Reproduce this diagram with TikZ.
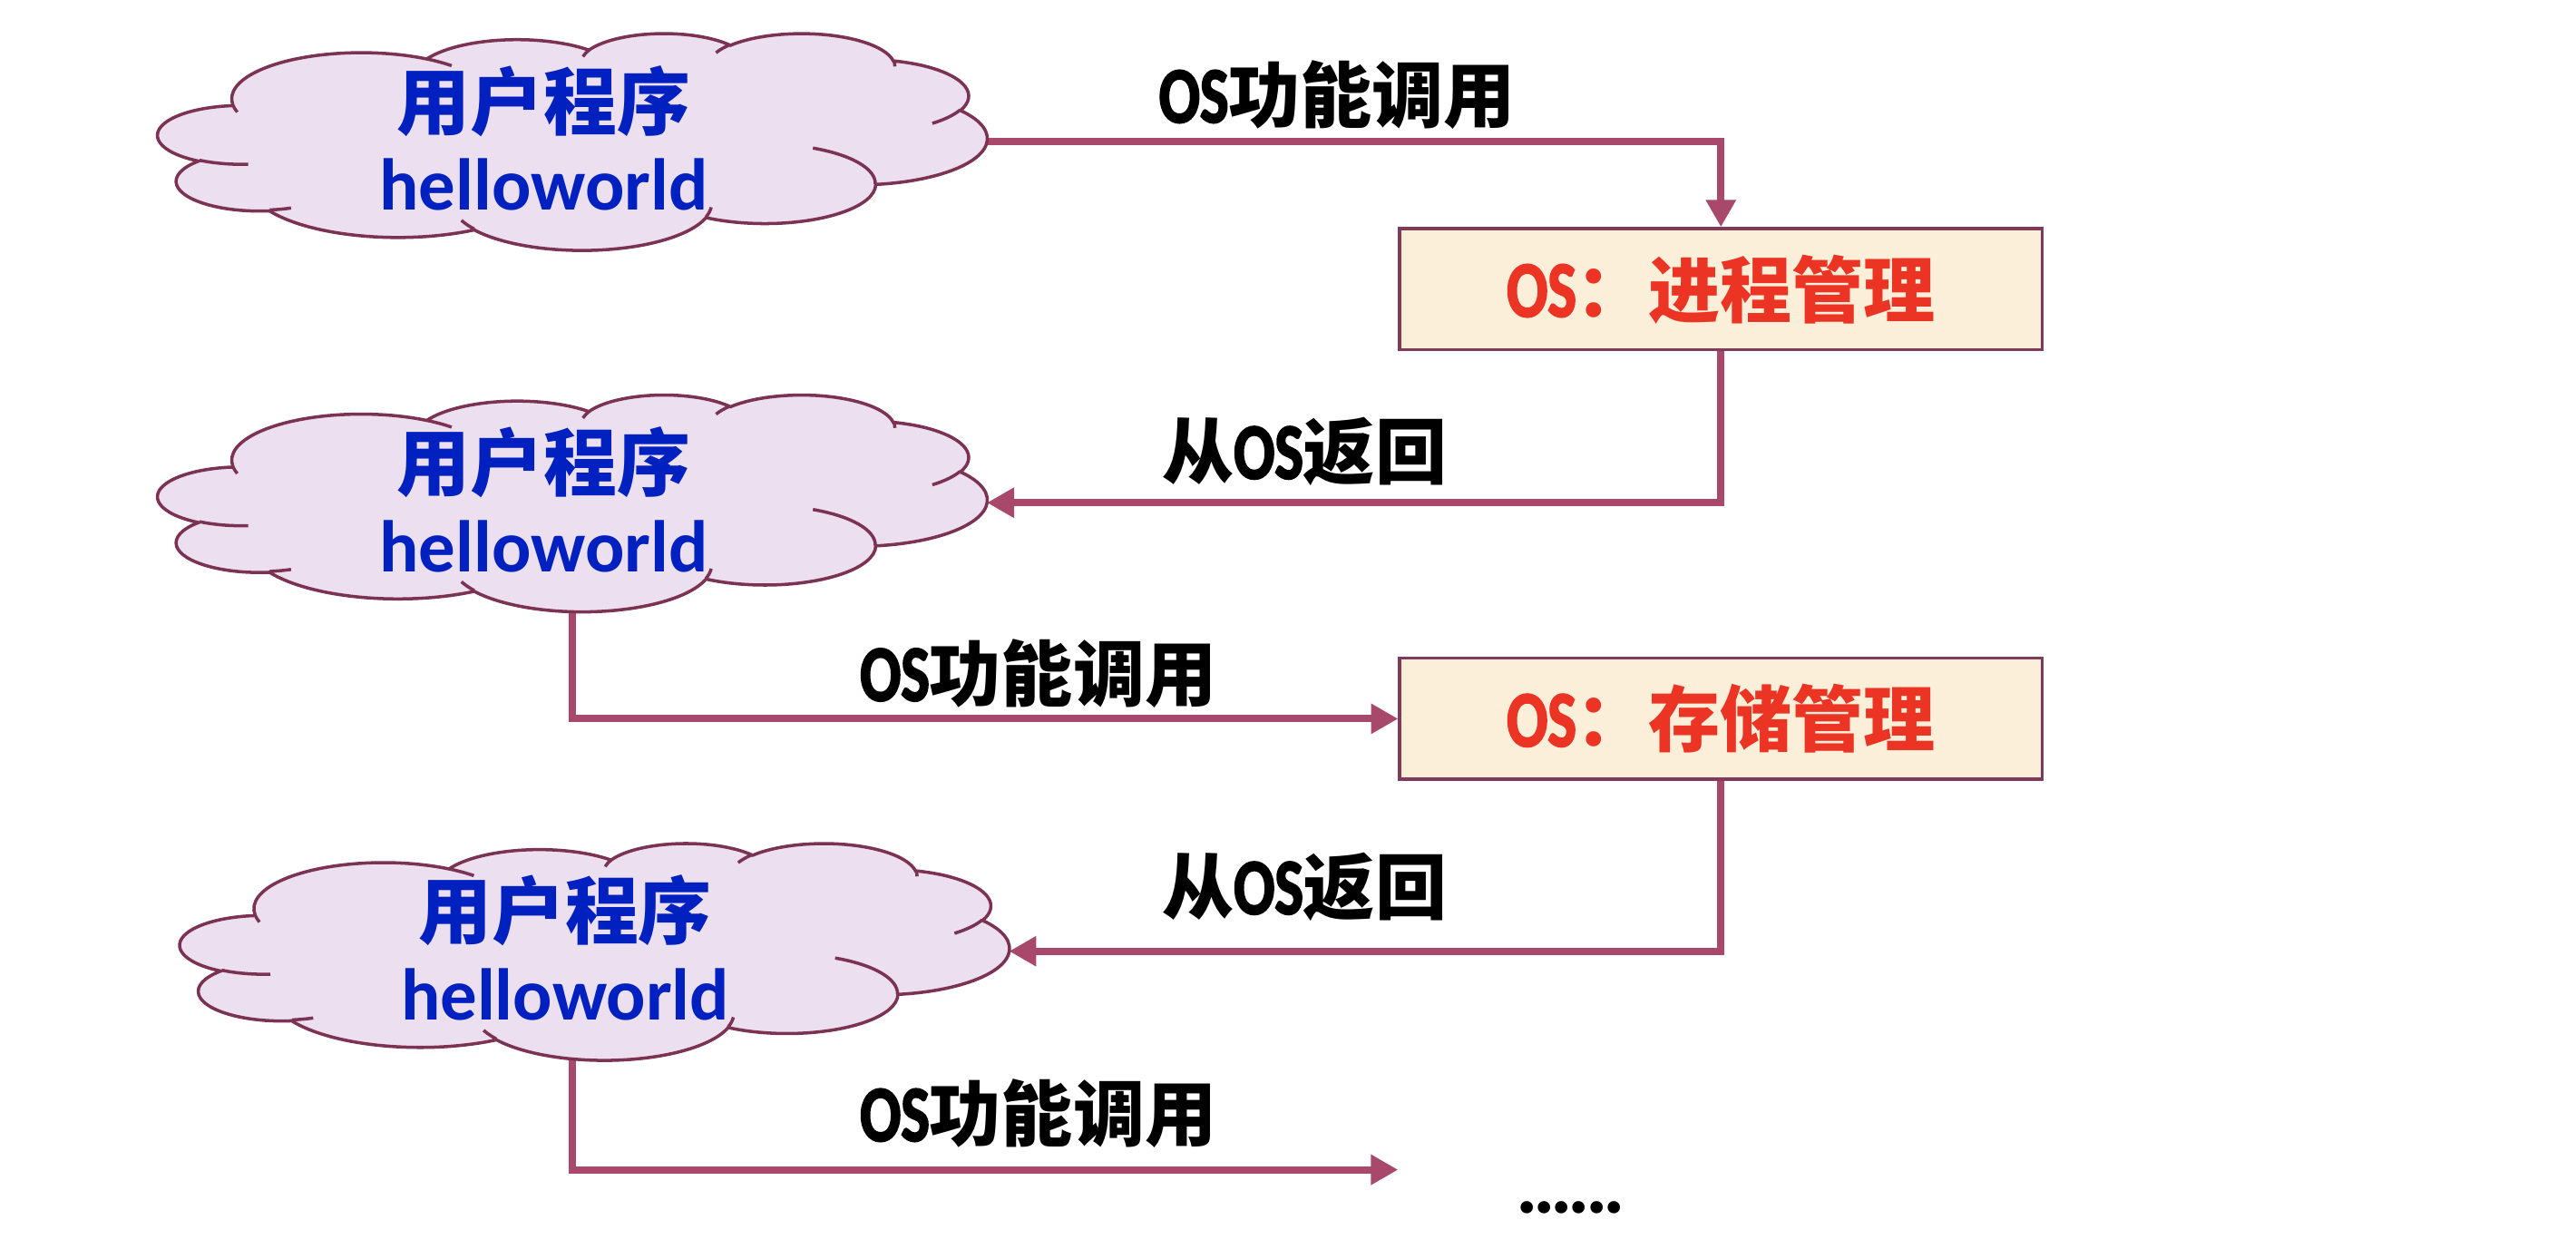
\documentclass[tikz,border=0pt]{standalone}
\usepackage{fontspec}
\setmainfont{Carlito}
\newfontfamily\cjk{Noto Sans CJK SC}
\newfontfamily\osfont{Carlito}[UprightFont=*-Bold, FakeStretch=0.76, FakeBold=2.2]
\usetikzlibrary{arrows.meta,backgrounds}

\definecolor{flowc}{RGB}{168,73,108}
\definecolor{cloudline}{RGB}{124,50,82}
\definecolor{cloudfill}{RGB}{236,224,240}
\definecolor{boxfill}{RGB}{252,239,217}
\definecolor{boxline}{RGB}{128,58,90}
\definecolor{blueText}{RGB}{0,32,192}
\definecolor{redText}{RGB}{235,52,36}

\newcommand\zh[1]{{\cjk #1}}
\newcommand\osname{{\osfont\mdseries\fontsize{25}{27}\selectfont OS}}
\newcommand\dotrow{.\kern-1.5pt.\kern-1.5pt.\kern-1.5pt.\kern-1.5pt.\kern-1.5pt.}

% Cloud outline on a 432 x 432 grid, scaled to the node box.
\makeatletter
\def\cldpt#1#2{\pgfpoint{\cldx+(#1)*\cldsx}{\cldy-(#2)*\cldsy}}
% elliptic arc: radii #1,#2, visual start angle #3, sweep #4 (y downwards)
\def\cldarc#1#2#3#4{%
  \pgfmathsetmacro\cldts{atan2((#1)*sin(#3),(#2)*cos(#3))}%
  \pgfmathsetmacro\cldte{atan2((#1)*sin((#3)+(#4)),(#2)*cos((#3)+(#4)))}%
  \pgfmathsetmacro\cldtd{mod(mod(\cldte-\cldts,360)+360,360)}%
  \pgfmathsetmacro\cldtf{\cldts+\cldtd}%
  \pgfpatharcaxes{\cldts}{\cldtf}{\pgfpoint{(#1)*\cldsx}{0pt}}{\pgfpoint{0pt}{-(#2)*\cldsy}}%
}
\pgfdeclareshape{pptcloud}{%
  \inheritsavedanchors[from=rectangle]
  \inheritanchorborder[from=rectangle]
  \inheritanchor[from=rectangle]{center}
  \inheritanchor[from=rectangle]{north}
  \inheritanchor[from=rectangle]{south}
  \inheritanchor[from=rectangle]{east}
  \inheritanchor[from=rectangle]{west}
  \inheritanchor[from=rectangle]{north east}
  \inheritanchor[from=rectangle]{north west}
  \inheritanchor[from=rectangle]{south east}
  \inheritanchor[from=rectangle]{south west}
  \backgroundpath{%
    \southwest \pgf@xa=\pgf@x \pgf@ya=\pgf@y
    \northeast \pgf@xb=\pgf@x \pgf@yb=\pgf@y
    \edef\cldx{\the\pgf@xa}\edef\cldy{\the\pgf@yb}%
    \pgf@xc=\pgf@xb \advance\pgf@xc by -\pgf@xa \divide\pgf@xc by 432
    \pgf@yc=\pgf@yb \advance\pgf@yc by -\pgf@ya \divide\pgf@yc by 432
    \edef\cldsx{\the\pgf@xc}\edef\cldsy{\the\pgf@yc}%
    % outline
    \pgfpathmoveto{\cldpt{39}{143.7}}%
    \cldarc{67.53}{91.90}{-190.4875}{123.7805}%
    \cldarc{53.33}{72.67}{-144.1024}{89.9452}%
    \cldarc{43.65}{59.45}{-145.8079}{99.7230}%
    \cldarc{48.57}{65.95}{-130.9861}{117.2417}%
    \cldarc{53.33}{72.73}{-78.7089}{109.0269}%
    \cldarc{67.75}{92.20}{-46.2673}{130.2690}%
    \cldarc{57.85}{78.67}{0.6250}{114.0333}%
    \cldarc{67.52}{92.15}{22.4516}{115.1726}%
    \cldarc{77.20}{105.43}{66.2426}{75.7110}%
    \cldarc{43.60}{59.18}{-274.9421}{146.7356}%
    \cldarc{43.45}{59.45}{-246.8285}{152.5189}%
    \pgfpathclose
    % inner puff strokes
    \pgfpathmoveto{\cldpt{46.93}{261.77}}\cldarc{43.45}{59.45}{86.7420}{26.4295}%
    \pgfpathmoveto{\cldpt{69.28}{348.99}}\cldarc{43.60}{59.18}{73.6105}{11.4475}%
    \pgfpathmoveto{\cldpt{164.78}{390.90}}\cldarc{67.52}{92.15}{137.6242}{14.0811}%
    \pgfpathmoveto{\cldpt{288.27}{347.51}}\cldarc{67.52}{92.15}{6.4533}{15.9984}%
    \pgfpathmoveto{\cldpt{341.29}{229.54}}\cldarc{57.85}{78.67}{-70.2924}{70.9174}%
    \pgfpathmoveto{\cldpt{417.98}{153.54}}\cldarc{53.33}{72.73}{30.3180}{27.7515}%
    \pgfpathmoveto{\cldpt{383.24}{54.26}}\cldarc{48.57}{65.95}{-13.7443}{14.8589}%
    \pgfpathmoveto{\cldpt{290.78}{39.52}}\cldarc{48.57}{65.95}{-149.1815}{18.1954}%
    \pgfpathmoveto{\cldpt{221.41}{47.20}}\cldarc{43.65}{59.45}{-163.4943}{17.6864}%
    \pgfpathmoveto{\cldpt{140.00}{51.92}}\cldarc{67.53}{91.90}{-66.7070}{12.3194}%
    \pgfpathmoveto{\cldpt{41.27}{157.89}}\cldarc{67.53}{91.90}{157.6544}{11.8582}%
  }%
}
\makeatother

\begin{document}
\begin{tikzpicture}[x=0.5153pt,y=-0.5153pt,
  cloudnode/.style={shape=pptcloud, draw=cloudline, fill=cloudfill, line width=1pt,
    minimum width=260pt, minimum height=68pt, inner sep=0pt, outer sep=0pt},
  cloudtext/.style={text=blueText, align=center, inner sep=0pt,
    font=\fontsize{23}{25.5}\selectfont\bfseries},
  osbox/.style={draw=boxline, fill=boxfill, line width=1pt, text=redText,
    minimum width=201.5pt, minimum height=38pt, inner sep=0pt,
    font=\fontsize{22.5}{27}\selectfont\bfseries},
  calltext/.style={inner sep=0pt, font=\fontsize{22.5}{27}\selectfont\bfseries},
  flow/.style={draw=flowc, line width=2.3pt, -{Triangle[length=8.5pt,width=9pt]}}]

\useasboundingbox (0,0) rectangle (1568,760);

% user program clouds
\node[cloudnode] (c1) at (348.5,86) {};
\node[cloudnode] (c2) at (348.5,306) {};
\node[cloudnode] (c3) at (362,579) {};
\node[cloudtext] (t1) at (331,84) {\zh{用户程序}\\helloworld};
\node[cloudtext] (t2) at (331,304) {\zh{用户程序}\\helloworld};
\node[cloudtext] (t3) at (344,577) {\zh{用户程序}\\helloworld};

% OS service boxes
\node[osbox] (b1) at (1047.5,176) {\osname\zh{：进程管理}};
\node[osbox] (b2) at (1047.5,437.5) {\osname\zh{：存储管理}};

% connector labels
\node[calltext] (l1) at (814,58) {\osname\zh{功能调用}};
\node[calltext] (l2) at (794,275) {\zh{从}\osname\zh{返回}};
\node[calltext] (l3) at (632,410) {\osname\zh{功能调用}};
\node[calltext] (l4) at (794,540) {\zh{从}\osname\zh{返回}};
\node[calltext] (l5) at (632,678) {\osname\zh{功能调用}};
\node[calltext, font=\fontsize{26}{28}\selectfont\bfseries] (dots) at (956,735) {\dotrow};
\coordinate (e5) at (851,712);

\begin{scope}[on background layer]
  \fill[white] (0,0) rectangle (1568,760);
  \draw[flow] (c1.center) -| (b1.north);
  \draw[flow] (b1.south) |- (c2.east);
  \draw[flow] (c2.center) |- (b2.west);
  \draw[flow] (b2.south) |- (c3.east);
  \draw[flow] (c3.center -| c2.center) |- (e5);
\end{scope}
\end{tikzpicture}
\end{document}
